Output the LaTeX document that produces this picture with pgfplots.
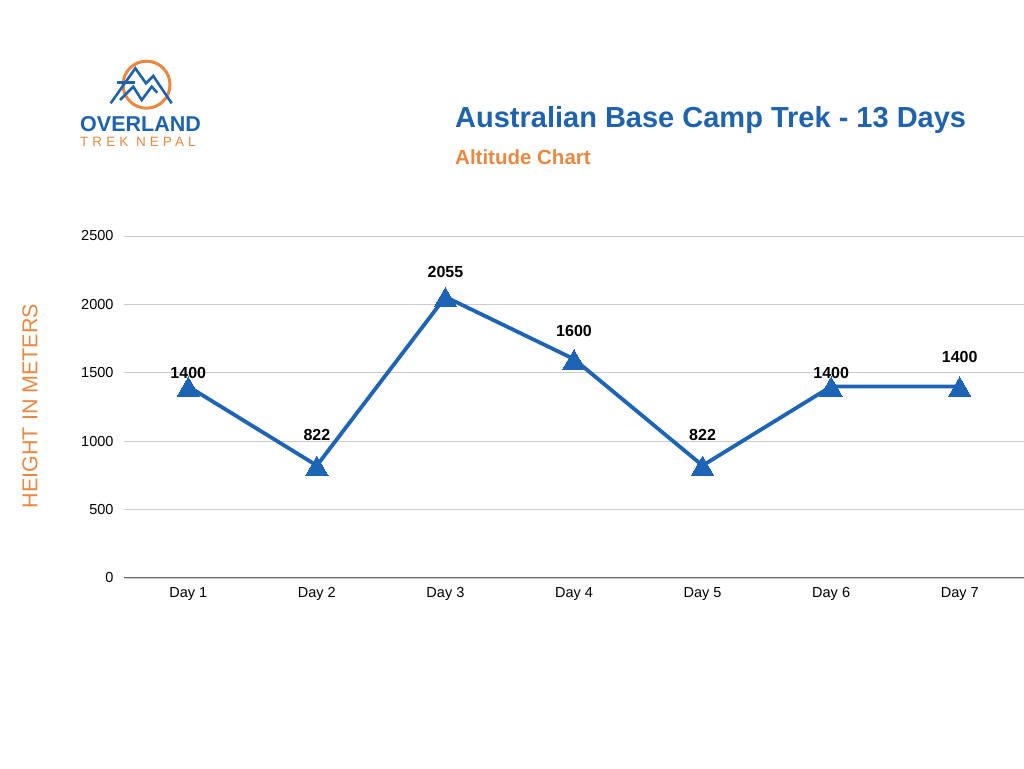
\documentclass[border=0pt]{standalone}
\usepackage{pgfplots}
\pgfplotsset{compat=1.18}
\usepackage{pgfplotstable}
\usepackage{fontspec}
\setmainfont{Liberation Sans}
\definecolor{tblue}{RGB}{30,99,176}
\definecolor{torange}{RGB}{238,135,62}
\definecolor{lineblue}{RGB}{30,100,182}

\pgfplotstableread{
x y off
1 1400 17
2 822 34
3 2055 28
4 1600 32
5 822 34
6 1400 17
7 1400 33
}\altdata

\begin{document}
\begin{tikzpicture}[x=1pt,y=1pt]
\path[use as bounding box, fill=white] (0,0) rectangle (1024,768);
% logo
\draw[torange, line width=3pt] (146.5,683.3) circle (23.5);
\draw[tblue, line width=2.6pt, line join=miter] (110.7,664.7) -- (135.3,699.7) -- (146,684.7) -- (153.3,692) -- (171.7,664.7);
\draw[tblue, line width=2.6pt] (117,685.7) -- (135,685.7);
\draw[tblue, line width=2.6pt, line join=miter] (120,668) -- (133.3,681.3) -- (141.7,668) -- (151.7,681.3) -- (157.3,675.3);
\node[anchor=base west, inner sep=0pt, text=tblue, font=\bfseries\fontsize{21.5}{24}\selectfont] at (80,636) {OVERLAND};
\node[anchor=base west, inner sep=0pt, text=torange, font=\fontsize{13.5}{15}\selectfont\addfontfeatures{LetterSpace=30}] at (80,621) {TREK NEPAL};
% titles
\node[anchor=base west, inner sep=0pt, text=tblue, font=\bfseries\fontsize{29}{33}\selectfont] at (455,640) {Australian Base Camp Trek - 13 Days};
\node[anchor=base west, inner sep=0pt, text=torange, font=\bfseries\fontsize{20.5}{23}\selectfont] at (455,603) {Altitude Chart};
% y label
\node[rotate=90, text=torange, font=\fontsize{21.5}{24}\selectfont, inner sep=0pt] at (30,362) {HEIGHT IN METERS};
\begin{axis}[
  at={(124pt,190pt)}, anchor=south west,
  scale only axis, width=900pt, height=342pt,
  xmin=0.5, xmax=7.5, ymin=0, ymax=2500,
  xtick={1,2,3,4,5,6,7},
  xticklabels={Day 1,Day 2,Day 3,Day 4,Day 5,Day 6,Day 7},
  ytick={0,500,1000,1500,2000,2500},
  axis line style={draw=none},
  major tick length=0pt,
  ymajorgrids,
  grid style={color=black!20, line width=0.9pt},
  tick label style={font=\fontsize{14.5}{16}\selectfont},
  /pgf/number format/assume math mode=true,
  /pgf/number format/1000 sep={},
  yticklabel style={xshift=-7pt},
  xticklabel style={yshift=-6pt},
  clip=false,
]
\draw[black!60, line width=1pt] (axis cs:0.5,0) -- (axis cs:7.5,0);
\addplot[lineblue, line width=3.8pt, mark=triangle*, mark size=13pt,
  mark options={solid, line width=0pt, fill=lineblue, yshift=-3.5pt},
  visualization depends on={\thisrow{off} \as \offv},
  nodes near coords,
  every node near coord/.append style={anchor=center, yshift=\offv pt, text=black,
     font=\bfseries\fontsize{16}{18}\selectfont, /pgf/number format/1000 sep={}},
] table[x=x, y=y] {\altdata};
\end{axis}
\end{tikzpicture}
\end{document}
